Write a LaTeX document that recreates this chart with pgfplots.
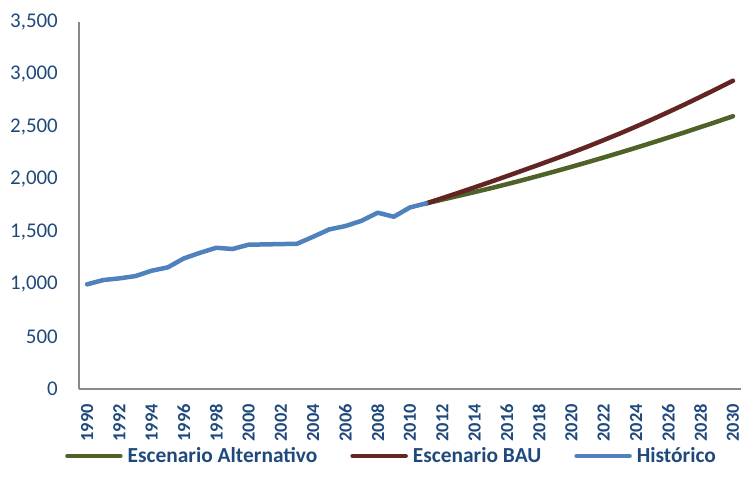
\documentclass[border=0pt]{standalone}
\usepackage{pgfplots}
\pgfplotsset{compat=1.18}
\usepackage{fontspec}
\setmainfont{Carlito}
\definecolor{cTxt}{HTML}{1F497D}
\definecolor{cAlt}{HTML}{4F6228}
\definecolor{cBau}{HTML}{632523}
\definecolor{cHist}{HTML}{4F81BD}
\definecolor{cAx}{HTML}{898989}
\begin{document}
\begin{tikzpicture}
\useasboundingbox (0bp,0bp) rectangle (742bp,492bp);
\begin{axis}[
  at={(79bp,103bp)}, anchor=south west,
  scale only axis, width=662bp, height=367bp,
  xmin=1989.5, xmax=2030.5, ymin=0, ymax=3500,
  axis lines*=left,
  axis line style={cAx, line width=1.5bp},
  xtick={1990,1992,...,2030}, ytick={0,500,...,3500},
  major tick length=0pt,
  /pgf/number format/assume math mode=true,
  tick label style={inner sep=0pt, text=cTxt},
  x tick label style={rotate=90, anchor=east, font=\fontsize{18.5}{18.5}\selectfont\bfseries, /pgf/number format/1000 sep={}},
  y tick label style={anchor=east, font=\fontsize{21}{21}\selectfont, /pgf/number format/1000 sep={,}},
  xticklabel shift=15bp, yticklabel shift=21bp,
  every axis plot/.append style={line width=4.5bp, line cap=round, line join=round},
  legend columns=3,
  legend style={at={(0.4706,-0.1826)}, anchor=center, draw=none, fill=none,
    font=\fontsize{21.5}{21.5}\selectfont\bfseries, text=cTxt,
    nodes={inner sep=0pt},
    /tikz/every even column/.append style={column sep=33bp},
    /tikz/every odd column/.append style={column sep=5bp}},
  legend image code/.code={\draw[#1, line cap=round] (0bp,0bp) -- (53bp,0bp);},
]
\addplot[cAlt] coordinates {
(2011,1770) (2012,1806) (2013,1842) (2014,1878) (2015,1915) (2016,1953)
(2017,1993) (2018,2034) (2019,2076) (2020,2119) (2021,2163) (2022,2208)
(2023,2254) (2024,2301) (2025,2349) (2026,2398) (2027,2447) (2028,2498)
(2029,2549) (2030,2601)};
\addlegendentry{Escenario Alternativo}
\addplot[cBau] coordinates {
(2011,1770) (2012,1820) (2013,1871) (2014,1923) (2015,1976) (2016,2030)
(2017,2085) (2018,2140) (2019,2196) (2020,2253) (2021,2312) (2022,2374)
(2023,2437) (2024,2503) (2025,2571) (2026,2641) (2027,2713) (2028,2787)
(2029,2863) (2030,2940)};
\addlegendentry{Escenario BAU}
\addplot[cHist] coordinates {
(1990,998) (1991,1039) (1992,1055) (1993,1077) (1994,1128) (1995,1160)
(1996,1246) (1997,1299) (1998,1347) (1999,1335) (2000,1376) (2001,1379)
(2002,1382) (2003,1385) (2004,1452) (2005,1522) (2006,1554) (2007,1604)
(2008,1681) (2009,1643) (2010,1732) (2011,1770)};
\addlegendentry{Histórico}
\end{axis}
\end{tikzpicture}
\end{document}
